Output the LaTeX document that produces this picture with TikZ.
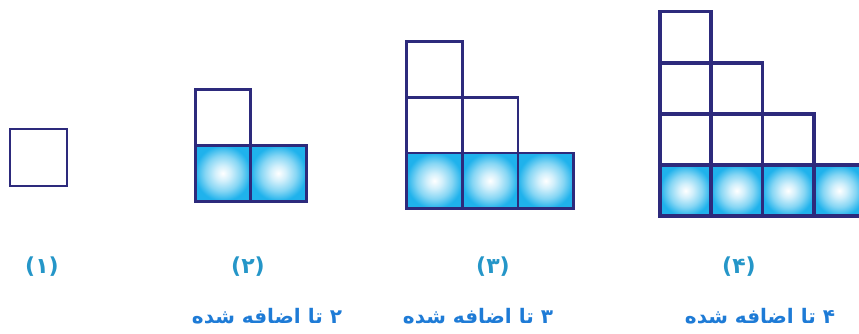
\documentclass[tikz,border=0pt]{standalone}
\usepackage{fontspec}
\newfontfamily\arabicfont[Script=Arabic]{DejaVu Sans}
\TeXXeTstate=1
\definecolor{edgec}{HTML}{2D2A7C}
\definecolor{cyanc}{HTML}{1FB2EC}
\definecolor{midc}{HTML}{86D6F4}
\definecolor{parc}{HTML}{2596C8}
\definecolor{txtc}{HTML}{1E7BD6}
\pgfdeclareradialshading{ballfill}{\pgfpoint{0bp}{0bp}}{color(0bp)=(white); color(7bp)=(white!80!cyanc); color(16bp)=(midc); color(25bp)=(cyanc); color(50bp)=(cyanc)}
\tikzset{
  cell/.style={draw=edgec, minimum width=#1, minimum height=#1, inner sep=0pt, outer sep=0pt, anchor=north west, fill=white},
  bluecell/.style={cell=#1, shading=ballfill},
  parlabel/.style={text=parc, font=\arabicfont\bfseries\fontsize{22}{26}\selectfont, inner sep=0pt},
  addlabel/.style={text=txtc, font=\arabicfont\bfseries\fontsize{20}{24}\selectfont, inner sep=0pt},
}
\begin{document}
\begin{tikzpicture}[x=1pt,y=-1pt]
\useasboundingbox (0,0) rectangle (859,334);
% figure 1
\node[cell=57pt, line width=2.5pt] (f1a) at (10,129) {};
% figure 2
\begin{scope}[line width=3pt]
\node[cell=55.5pt] (f2t) at (195,90) {};
\node[bluecell=55.5pt] (f2a) at (195,145.5) {};
\node[bluecell=55.5pt] (f2b) at (250.5,145.5) {};
\end{scope}
% figure 3
\begin{scope}[line width=2.8pt]
\node[cell=55.7pt] (f3t1) at (406.5,41.5) {};
\node[cell=55.7pt] (f3m1) at (406.5,97.2) {};
\node[cell=55.7pt] (f3m2) at (462.2,97.2) {};
\node[bluecell=55.7pt] (f3a) at (406.5,152.9) {};
\node[bluecell=55.7pt] (f3b) at (462.2,152.9) {};
\node[bluecell=55.7pt] (f3c) at (517.9,152.9) {};
\end{scope}
% figure 4
\begin{scope}[line width=3.8pt]
\node[cell=51.2pt] (f4r1a) at (660,11.5) {};
\node[cell=51.2pt] (f4r2a) at (660,62.7) {};
\node[cell=51.2pt] (f4r2b) at (711.2,62.7) {};
\node[cell=51.2pt] (f4r3a) at (660,113.9) {};
\node[cell=51.2pt] (f4r3b) at (711.2,113.9) {};
\node[cell=51.2pt] (f4r3c) at (762.4,113.9) {};
\node[bluecell=51.2pt] (f4a) at (660,165.1) {};
\node[bluecell=51.2pt] (f4b) at (711.2,165.1) {};
\node[bluecell=51.2pt] (f4c) at (762.4,165.1) {};
\node[bluecell=51.2pt] (f4d) at (813.6,165.1) {};
\end{scope}
% labels
\node[parlabel] (l1) at (42,267) {(۱)};
\node[parlabel] (l2) at (248,267) {(۲)};
\node[parlabel] (l3) at (493,267) {(۳)};
\node[parlabel] (l4) at (739,267) {(۴)};
\node[addlabel] (a2) at (267,316) {\beginR ۲ تا اضافه شده\endR};
\node[addlabel] (a3) at (478,316) {\beginR ۳ تا اضافه شده\endR};
\node[addlabel] (a4) at (760,316) {\beginR ۴ تا اضافه شده\endR};
\end{tikzpicture}
\end{document}
